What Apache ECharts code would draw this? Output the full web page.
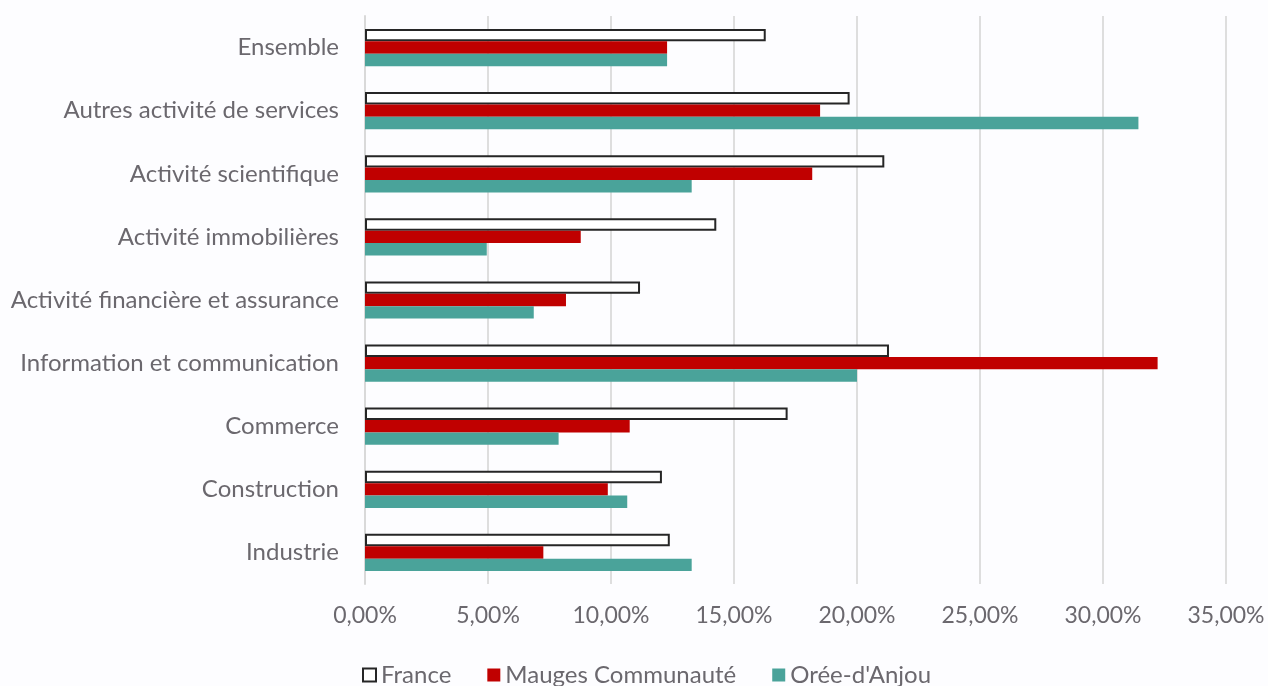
<!DOCTYPE html>
<html><head><meta charset="utf-8">
<script src="https://cdn.jsdelivr.net/npm/echarts@6/dist/echarts.min.js"></script>
<style>html,body{margin:0;padding:0;background:#fdfdff;}#c{width:1268px;height:686px;}</style>
</head><body><div id="c"></div>
<script>
const categories = ["Ensemble","Autres activité de services","Activité scientifique","Activité immobilières","Activité financière et assurance","Information et communication","Commerce","Construction","Industrie"];
const seriesNames = ["France","Mauges Communauté","Orée-d'Anjou"];
const france = [16.29, 19.70, 21.11, 14.28, 11.18, 21.30, 17.18, 12.07, 12.39];
const mauges = [12.28, 18.50, 18.18, 8.77, 8.17, 32.22, 10.76, 9.87, 7.25];
const oree   = [12.28, 31.44, 13.28, 4.95, 6.86, 20.00, 7.87, 10.66, 13.28];
const FONT = 'Lato';
const TXT = '#6b686e';
const chart = echarts.init(document.getElementById('c'));
chart.setOption({
  backgroundColor: '#fdfdff',
  animation: false,
  grid: {left: 365, right: 42, top: 16, bottom: 102, containLabel: false},
  xAxis: {type: 'value', min: 0, max: 35, interval: 5,
    axisLine: {show: false}, axisTick: {show: false},
    splitLine: {lineStyle: {color: '#dedede', width: 2}},
    axisLabel: {color: TXT, fontSize: 23, fontFamily: FONT, margin: 20,
      formatter: v => v.toFixed(2).replace('.', ',') + '%'}},
  yAxis: {type: 'category', data: categories, inverse: true,
    axisLine: {show: true, lineStyle: {color: '#d9d9d9', width: 2}},
    axisTick: {show: false},
    axisLabel: {color: TXT, fontSize: 24, fontFamily: FONT, margin: 26, interval: 0}},
  legend: {top: 663, left: 362, padding: 0, icon: 'rect', itemWidth: 13, itemHeight: 13, itemGap: 36,
    textStyle: {color: TXT, fontSize: 24, fontFamily: FONT},
    data: seriesNames},
  series: [
    {name: seriesNames[0], type: 'bar', data: france, barGap: '0%', barCategoryGap: '41%',
      itemStyle: {color: '#ffffff', borderColor: '#262626', borderWidth: 2}},
    {name: seriesNames[1], type: 'bar', data: mauges, barGap: '0%', barCategoryGap: '41%',
      itemStyle: {color: '#c00000'}},
    {name: seriesNames[2], type: 'bar', data: oree, barGap: '0%', barCategoryGap: '41%',
      itemStyle: {color: '#4aa39a'}}
  ]
});
</script></body></html>
